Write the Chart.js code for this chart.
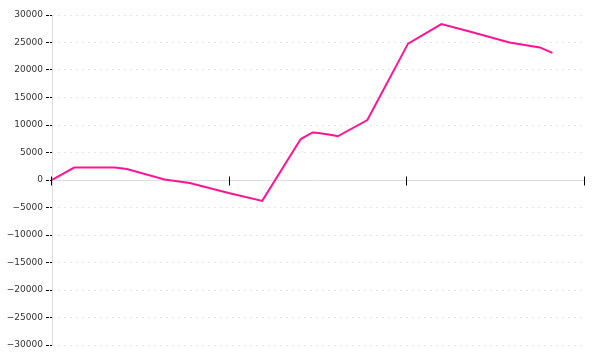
<!DOCTYPE html>
<html>
<head>
<meta charset="utf-8">
<script src="https://cdn.jsdelivr.net/npm/chart.js@4/dist/chart.umd.min.js"></script>
<style>
html,body{margin:0;padding:0;background:#fff;}
#wrap{width:600px;height:360px;position:relative;}
</style>
</head>
<body>
<div id="wrap"><canvas id="c" width="600" height="360"></canvas></div>
<script>
// x positions (months)
const xValues = [0, 1.5, 4.25, 5.05, 7.6, 9.3, 12.0, 14.2, 16.8, 17.6, 18.0, 18.9, 19.3, 21.3, 24.05, 26.3, 28.2, 30.9, 32.95, 33.8];
const seriesValues = [0, 2270, 2270, 2000, 90, -550, -2400, -3800, 7450, 8640, 8550, 8180, 7950, 10900, 24800, 28360, 27000, 25000, 24100, 23100];
const xTicks = [0, 12, 24, 36];
const yTicks = [-30000, -25000, -20000, -15000, -10000, -5000, 0, 5000, 10000, 15000, 20000, 25000, 30000];

const points = xValues.map((x, i) => ({x: x, y: seriesValues[i]}));

const axisPlugin = {
  id: 'axisPlugin',
  beforeDatasetsDraw(chart) {
    const ctx = chart.ctx;
    const xs = chart.scales.x, ys = chart.scales.y;
    const y0 = Math.round(ys.getPixelForValue(0)) + 0.5;
    const xl = Math.round(xs.left) + 0.5;
    ctx.save();
    ctx.strokeStyle = '#dddddd';
    ctx.lineWidth = 1;
    ctx.setLineDash([]);
    ctx.beginPath();
    ctx.moveTo(xs.left, y0);
    ctx.lineTo(xs.right, y0);
    ctx.moveTo(xl, ys.top);
    ctx.lineTo(xl, ys.bottom);
    ctx.stroke();
    ctx.restore();
  },
  afterDatasetsDraw(chart) {
    const ctx = chart.ctx;
    const xs = chart.scales.x, ys = chart.scales.y;
    const y0 = Math.round(ys.getPixelForValue(0)) + 0.5;
    ctx.save();
    ctx.strokeStyle = '#000';
    ctx.lineWidth = 1;
    xTicks.forEach(t => {
      const px = Math.round(xs.getPixelForValue(t)) - 0.5;
      ctx.beginPath();
      ctx.moveTo(px, y0 - 4);
      ctx.lineTo(px, y0 + 5);
      ctx.stroke();
    });
    ctx.restore();
  }
};

new Chart(document.getElementById('c'), {
  type: 'line',
  data: {
    datasets: [{
      data: points,
      borderColor: '#ff1493',
      borderWidth: 2,
      pointRadius: 0,
      tension: 0,
      fill: false
    }]
  },
  options: {
    responsive: false,
    animation: false,
    layout: {padding: {top: 15, bottom: 15, right: 15, left: 0}},
    plugins: {legend: {display: false}, tooltip: {enabled: false}},
    scales: {
      x: {
        type: 'linear',
        min: 0,
        max: 36,
        display: false
      },
      y: {
        min: -30000,
        max: 30000,
        afterBuildTicks(scale) { scale.ticks = yTicks.map(v => ({value: v})); },
        afterFit(scale) { scale.width = 52; },
        ticks: {
          color: '#333',
          font: {family: 'DejaVu Sans', size: 9},
          padding: 3,
          callback: v => String(v).replace('-', '\u2212')
        },
        grid: {
          color: ctx => ctx.tick && ctx.tick.value === 0 ? 'rgba(0,0,0,0)' : '#e4e4e4',
          tickColor: '#000',
          tickLength: 6,
          tickBorderDash: [3, 1],
          drawTicks: true
        },
        border: {display: false, dash: [2, 4]}
      }
    }
  },
  plugins: [axisPlugin]
});
</script>
</body>
</html>
